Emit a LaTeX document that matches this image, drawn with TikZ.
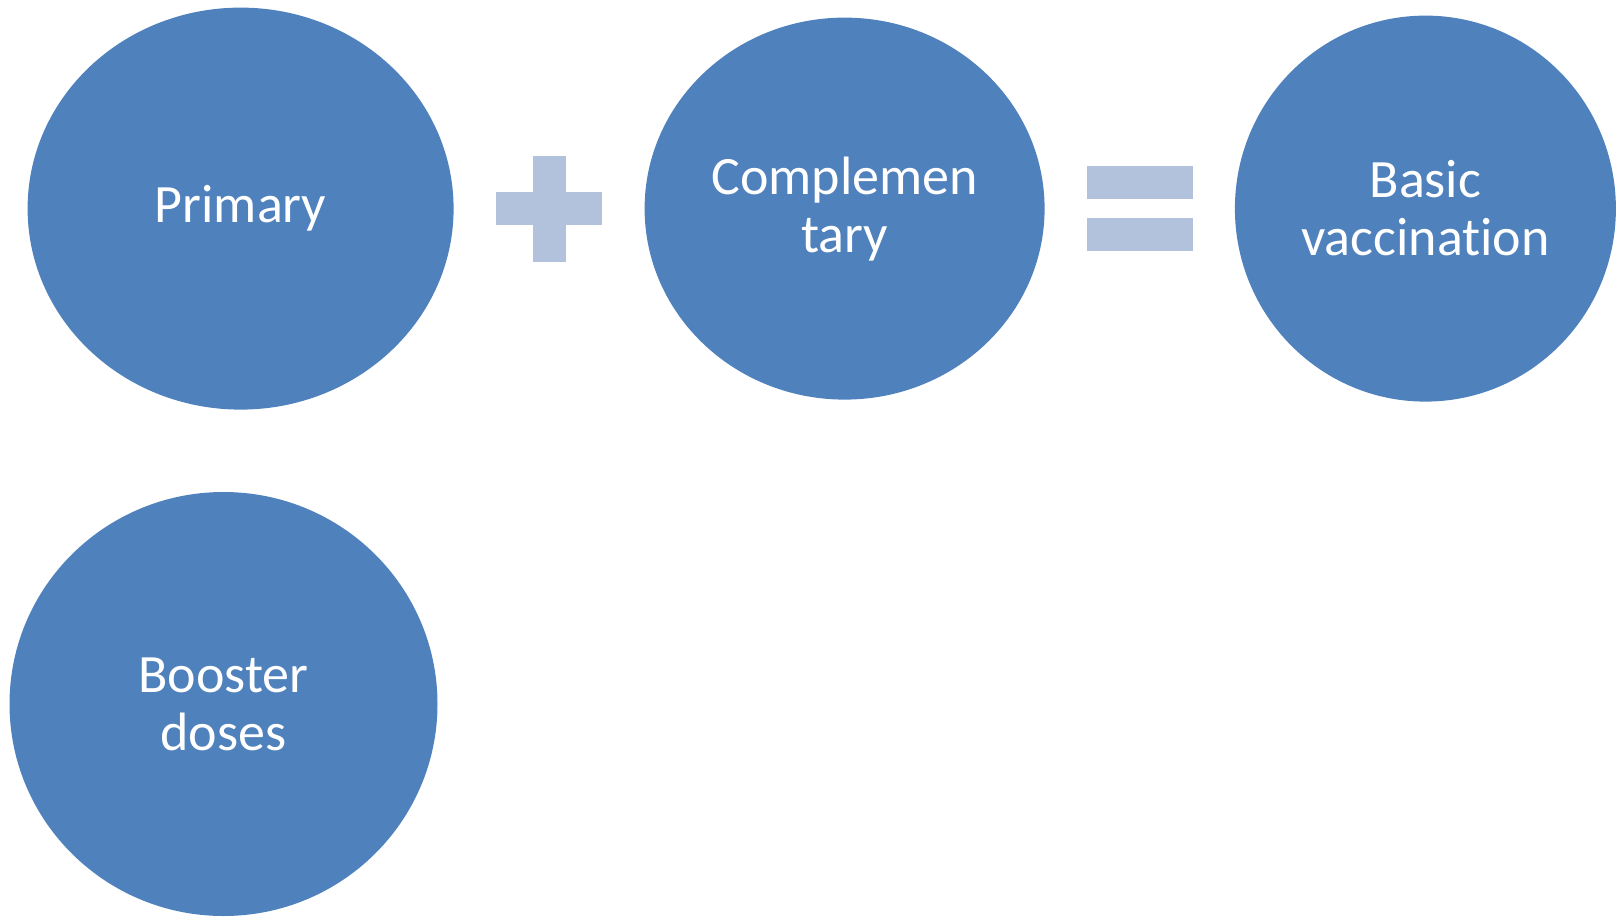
\documentclass[tikz,border=0pt]{standalone}
\usepackage{fontspec}
\setmainfont{Carlito}[Ligatures=NoCommon]
\usepackage{tikz}
\usetikzlibrary{shapes.geometric}
\definecolor{bubbleblue}{HTML}{4F81BD}
\definecolor{signblue}{HTML}{B3C2DC}

\begin{document}
\begin{tikzpicture}[x=1pt,y=-1pt,
bubble/.style={ellipse,fill=bubbleblue,draw=none,inner sep=0pt,text=white,
  align=center,font=\fontsize{54}{58}\selectfont},
signbar/.style={rectangle,fill=signblue,draw=none,inner sep=0pt}]
\useasboundingbox (0,0) rectangle (1619,916);

\node (Primary) [bubble,minimum width=426pt,minimum height=402pt] at (240.6,208.6) {Primary};
\node (Compl) [bubble,minimum width=400pt,minimum height=382pt] at (844.6,208.6) {Complemen\\tary};
\node (Basic) [bubble,minimum width=381pt,minimum height=386pt] at (1425.4,208.6) {Basic\\vaccination};
\node (Booster) [bubble,minimum width=428pt,minimum height=424pt] at (223.5,704) {Booster\\doses};

% plus sign
\node (plusH) [signbar,minimum width=106pt,minimum height=33pt] at (549,208.6) {};
\node (plusV) [signbar,minimum width=33pt,minimum height=106pt] at (549,208.6) {};

% equals sign
\node (eqTop) [signbar,minimum width=106pt,minimum height=33pt] at (1140,182.5) {};
\node (eqBot) [signbar,minimum width=106pt,minimum height=33pt] at (1140,234.5) {};
\end{tikzpicture}
\end{document}
